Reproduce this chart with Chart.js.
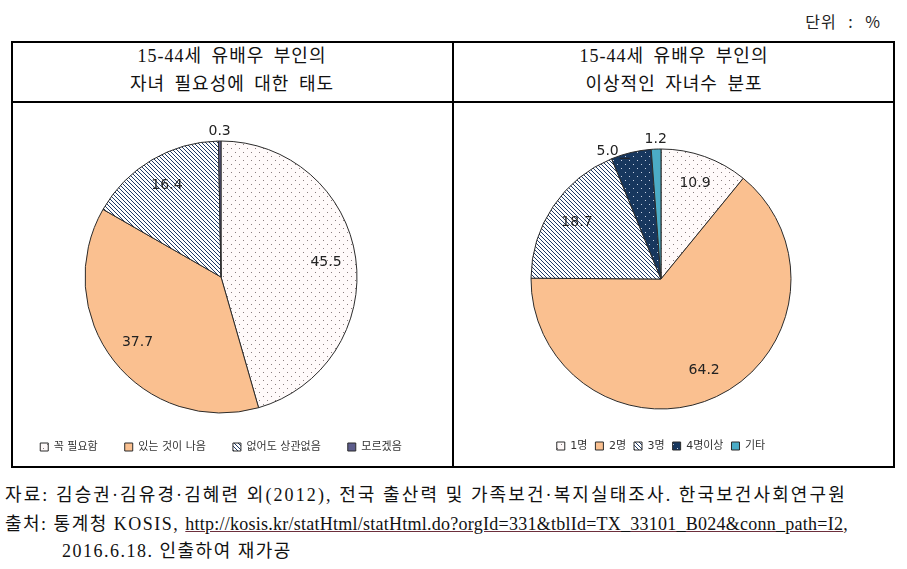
<!DOCTYPE html>
<html>
<head>
<meta charset="utf-8">
<script src="https://cdn.jsdelivr.net/npm/chart.js@4.4.1/dist/chart.umd.min.js"></script>
<style>
  body { margin: 0; width: 907px; height: 569px; background: #fff; position: relative; overflow: hidden;
         font-family: 'Liberation Serif', 'Noto Sans CJK KR', serif; color: #111; }
  .abs { position: absolute; }
  .unit { right: 26px; top: 9px; font-size: 16px; font-family: 'Noto Sans CJK KR', sans-serif; color: #222;
          word-spacing: 7px; letter-spacing: 1px; }
  .frame { left: 11px; top: 41px; width: 884px; height: 427px; border: 2px solid #000; box-sizing: border-box; }
  .vline { left: 452px; top: 41px; width: 2px; height: 427px; background: #000; }
  .hline { left: 11px; top: 101px; width: 884px; height: 2px; background: #000; }
  .head { top: 42px; height: 58px; width: 442px; text-align: center; font-size: 18px; line-height: 28px;
          word-spacing: 4px; letter-spacing: 1px; }
  .src { left: 5px; font-size: 18px; white-space: nowrap; color: #111; letter-spacing: 1.5px; }
  .src u { text-decoration-color: #6d2f3c; letter-spacing: 0.25px; }
</style>
</head>
<body>
<div class="abs unit">단위 : %</div>
<div class="abs frame"></div>
<div class="abs vline"></div>
<div class="abs hline"></div>
<div class="abs head" style="left:11px">15-44세 유배우 부인의<br>자녀 필요성에 대한 태도</div>
<div class="abs head" style="left:453px">15-44세 유배우 부인의<br>이상적인 자녀수 분포</div>
<canvas id="left" class="abs" style="left:11px;top:104px" width="420" height="362"></canvas>
<canvas id="right" class="abs" style="left:453px;top:104px" width="416" height="362"></canvas>
<div class="abs src" style="top:480px;letter-spacing:2.1px">자료: 김승권·김유경·김혜련 외(2012), 전국 출산력 및 가족보건·복지실태조사. 한국보건사회연구원</div>
<div class="abs src" style="top:509px">출처: 통계청 KOSIS, <u>http://kosis.kr/statHtml/statHtml.do?orgId=331&amp;tblId=TX_33101_B024&amp;conn_path=I2</u>,</div>
<div class="abs src" style="top:536px;left:62px">2016.6.18. 인출하여 재가공</div>

<script>
// data
const needLabels = ['꼭 필요함', '있는 것이 나음', '없어도 상관없음', '모르겠음'];
const needValues = [45.5, 37.7, 16.4, 0.3];
const idealLabels = ['1명', '2명', '3명', '4명이상', '기타'];
const idealValues = [10.9, 64.2, 18.7, 5.0, 1.2];

// excel-like fill patterns
function pattern(size, bg, fg, pts) {
  const c = document.createElement('canvas');
  c.width = c.height = size;
  const g = c.getContext('2d');
  g.fillStyle = bg;
  g.fillRect(0, 0, size, size);
  g.fillStyle = fg;
  pts.forEach(p => g.fillRect(p[0], p[1], 1, 1));
  return g.createPattern(c, 'repeat');
}
const dots = pattern(8, '#fffafa', '#8a7f80', [[0, 0], [4, 4]]);
const hatch = pattern(4, '#ffffff', '#1f3a66', [[0, 0], [1, 1], [2, 2], [3, 3]]);
const navyDots = pattern(8, '#17375e', '#c9d2e3', [[0, 0], [4, 4]]);
const peach = '#fac090';

const valueLabels = {
  id: 'valueLabels',
  afterDatasetsDraw(chart) {
    const ctx = chart.ctx;
    const meta = chart.getDatasetMeta(0);
    const data = chart.data.datasets[0].data;
    ctx.save();
    ctx.font = '14px "DejaVu Sans"';
    ctx.fillStyle = '#222';
    ctx.strokeStyle = '#222';
    ctx.lineWidth = 1;
    ctx.textBaseline = 'middle';
    meta.data.forEach((arc, i) => {
      const p = arc.getProps(['x', 'y', 'startAngle', 'endAngle', 'outerRadius'], true);
      const mid = (p.startAngle + p.endAngle) / 2;
      const txt = data[i].toFixed(1);
      if (data[i] >= 8) {
        const r = p.outerRadius * 0.78;
        ctx.textAlign = 'center';
        ctx.fillText(txt, p.x + Math.cos(mid) * r, p.y + Math.sin(mid) * r);
      } else {
        const r = p.outerRadius + 10;
        const px = p.x + Math.cos(mid) * r;
        const py = p.y + Math.sin(mid) * r;
        if (Math.abs(Math.cos(mid)) < 0.1) {
          ctx.textAlign = 'center';
          ctx.fillText(txt, px, py);
        } else {
          // small slice on the side: label pushed out with a short leader
          ctx.textAlign = 'right';
          ctx.fillText(txt, px - 10, py + 9);
          ctx.beginPath();
          ctx.moveTo(px - 9, py + 15.5);
          ctx.lineTo(px + 1, py + 15.5);
          ctx.stroke();
        }
      }
    });
    ctx.restore();
  }
};

function makePie(id, labels, values, colors, radius, pad, legendPad) {
  return new Chart(document.getElementById(id), {
    type: 'pie',
    data: {
      labels: labels,
      datasets: [{
        data: values,
        backgroundColor: colors,
        borderColor: '#2b2b2b',
        borderWidth: 1,
        radius: radius
      }]
    },
    options: {
      responsive: false,
      animation: false,
      layout: { padding: pad },
      plugins: {
        tooltip: { enabled: false },
        legend: {
          position: 'bottom',
          labels: {
            boxWidth: 8,
            boxHeight: 8,
            padding: legendPad,
            color: '#333',
            font: { family: "'DejaVu Sans', 'Noto Sans CJK KR'", size: 11 }
          }
        }
      }
    },
    plugins: [valueLabels]
  });
}

makePie('left', needLabels, needValues, [dots, peach, hatch, '#5d5d8c'], 136, { top: 35.5, bottom: 3.5 }, 27);
makePie('right', idealLabels, idealValues, [dots, peach, hatch, navyDots, '#4bacc6'], 130, { top: 21.5, bottom: 4.5 }, 8);
</script>
</body>
</html>
